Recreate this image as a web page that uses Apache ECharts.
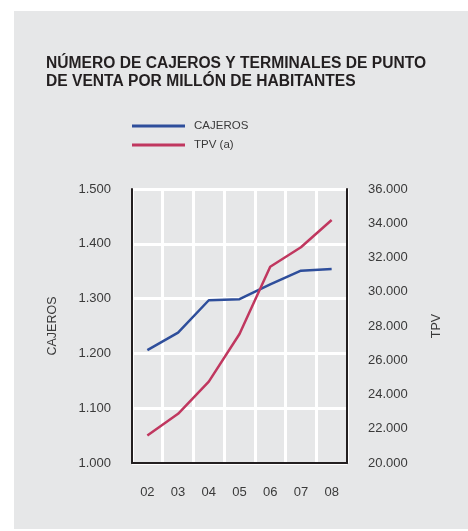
<!DOCTYPE html>
<html>
<head>
<meta charset="utf-8">
<script src="https://cdn.jsdelivr.net/npm/echarts@6/dist/echarts.min.js"></script>
<style>
  html, body { margin: 0; padding: 0; background: #ffffff; }
  #panel { position: absolute; left: 14px; top: 11px; width: 454px; height: 518px; background: #e6e7e8; }
  #chart { position: absolute; left: 0; top: 0; width: 468px; height: 531px; }
</style>
</head>
<body>
<div id="panel"></div>
<div id="chart"></div>
<script>
// años
var years = ['02', '03', '04', '05', '06', '07', '08'];
// cajeros por millón de habitantes (eje izquierdo)
var cajeros = [1206, 1238, 1297, 1299, 1326, 1351, 1354];
// terminales punto de venta por millón de habitantes (eje derecho)
var tpv = [21600, 22870, 24750, 27530, 31460, 32600, 34190];

function miles(v) {
    return String(v).replace(/\B(?=(\d{3})+(?!\d))/g, '.');
}

var myChart = echarts.init(document.getElementById('chart'));
var labelStyle = { color: '#3a3a3a', fontSize: 13, fontFamily: 'Liberation Sans' };
var option = {
    backgroundColor: 'transparent',
    textStyle: { fontFamily: 'Liberation Sans' },
    title: {
        text: 'NÚMERO DE CAJEROS Y TERMINALES DE PUNTO\nDE VENTA POR MILLÓN DE HABITANTES',
        left: 41,
        top: 49,
        textStyle: { fontSize: 15.6, fontWeight: 'bold', color: '#231f20', lineHeight: 18.5, fontFamily: 'Liberation Sans' }
    },
    legend: {
        orient: 'vertical',
        left: 127,
        top: 115,
        itemWidth: 53,
        itemHeight: 3,
        itemGap: 7,
        icon: 'rect',
        textStyle: { fontSize: 11.5, color: '#3a3a3a', padding: [0, 0, 0, 4] },
        data: ['CAJEROS', 'TPV (a)']
    },
    grid: { left: 132, right: 121, top: 189, bottom: 68 },
    xAxis: {
        type: 'category',
        data: years,
        boundaryGap: true,
        axisLine: { lineStyle: { color: '#231f20', width: 2 } },
        axisTick: { show: false },
        axisLabel: Object.assign({ margin: 23 }, labelStyle),
        splitLine: { show: true, lineStyle: { color: '#ffffff', width: 3 } }
    },
    yAxis: [{
        type: 'value',
        name: 'CAJEROS',
        nameLocation: 'middle',
        nameGap: 73,
        nameTextStyle: { fontSize: 12.5, color: '#3a3a3a' },
        min: 1000,
        max: 1500,
        interval: 100,
        axisLine: { show: true, lineStyle: { color: '#231f20', width: 2 } },
        axisTick: { show: false },
        axisLabel: Object.assign({ margin: 21, formatter: miles }, labelStyle),
        splitLine: { show: true, lineStyle: { color: '#ffffff', width: 3 } }
    }, {
        type: 'value',
        name: 'TPV',
        nameLocation: 'middle',
        nameGap: 83,
        nameRotate: 90,
        nameTextStyle: { fontSize: 12.5, color: '#3a3a3a' },
        min: 20000,
        max: 36000,
        interval: 2000,
        axisLine: { show: true, lineStyle: { color: '#231f20', width: 2 } },
        axisTick: { show: false },
        axisLabel: Object.assign({ margin: 21, formatter: miles }, labelStyle),
        splitLine: { show: false }
    }],
    series: [{
        name: 'CAJEROS',
        type: 'line',
        yAxisIndex: 0,
        data: cajeros,
        symbol: 'none',
        color: '#2e4e9b',
        lineStyle: { width: 2.5, color: '#2e4e9b' },
        z: 3
    }, {
        name: 'TPV (a)',
        type: 'line',
        yAxisIndex: 1,
        data: tpv,
        symbol: 'none',
        color: '#c0375f',
        lineStyle: { width: 2.5, color: '#c0375f' },
        z: 4
    }]
};
option && myChart.setOption(option);
</script>
</body>
</html>
